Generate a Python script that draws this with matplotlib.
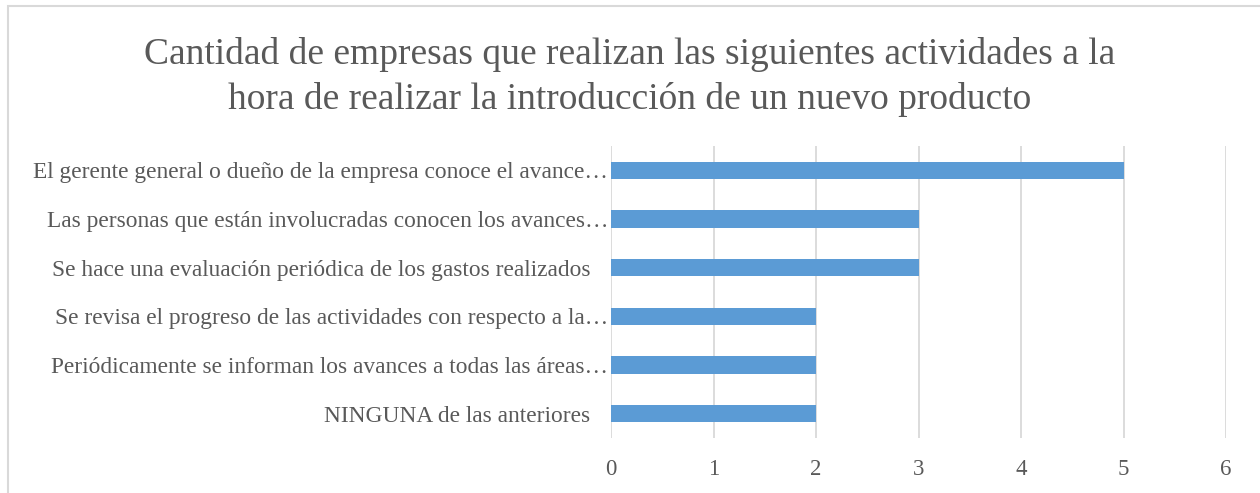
import matplotlib.pyplot as plt
from matplotlib.patches import Rectangle

categorias = [
    "El gerente general o dueño de la empresa conoce el avance…",
    "Las personas que están involucradas conocen los avances…",
    "Se hace una evaluación periódica de los gastos realizados   ",
    "Se revisa el progreso de las actividades con respecto a la…",
    "Periódicamente se informan los avances a todas las áreas…",
    "NINGUNA de las anteriores   ",
]
valores = [5, 3, 3, 2, 2, 2]
ticks_x = [0, 1, 2, 3, 4, 5, 6]

titulo = ("Cantidad de empresas que realizan las siguientes actividades a la\n"
          "hora de realizar la introducción de un nuevo producto")

plt.rcParams['font.family'] = ['Liberation Serif', 'DejaVu Serif']
gris = '#595959'

fig = plt.figure(figsize=(12.6, 4.93), dpi=100)
W, H = 1260, 493
ax = fig.add_axes([611 / W, 1 - 438 / H, (1226 - 611) / W, (438 - 146) / H])

# marco del grafico
fig.patches.append(Rectangle((8 / W, -0.1), 1.2, 1 - 6 / H + 0.1,
                             transform=fig.transFigure, fill=False,
                             edgecolor='#d9d9d9', linewidth=1.5))

y = list(range(len(categorias)))[::-1]
ax.barh(y, valores, height=0.35, color='#5b9bd5', zorder=3)

ax.set_xlim(0, 6)
ax.set_ylim(-0.5, len(categorias) - 0.5)
ax.set_xticks(ticks_x)
ax.set_xticklabels([str(t) for t in ticks_x], fontsize=16.5, color=gris)
ax.set_yticks(y)
ax.set_yticklabels(categorias, fontsize=16.8, color=gris)
ax.tick_params(axis='both', length=0)
ax.tick_params(axis='x', pad=15)
ax.tick_params(axis='y', pad=2)
ax.grid(axis='x', color='#d9d9d9', linewidth=1.3, zorder=0)
for s in ax.spines.values():
    s.set_visible(False)

fig.text(0.5, 1 - 77 / H, titulo, ha='center', va='center', fontsize=27,
         color=gris, linespacing=1.36)

fig.savefig('out.png', dpi=100)
